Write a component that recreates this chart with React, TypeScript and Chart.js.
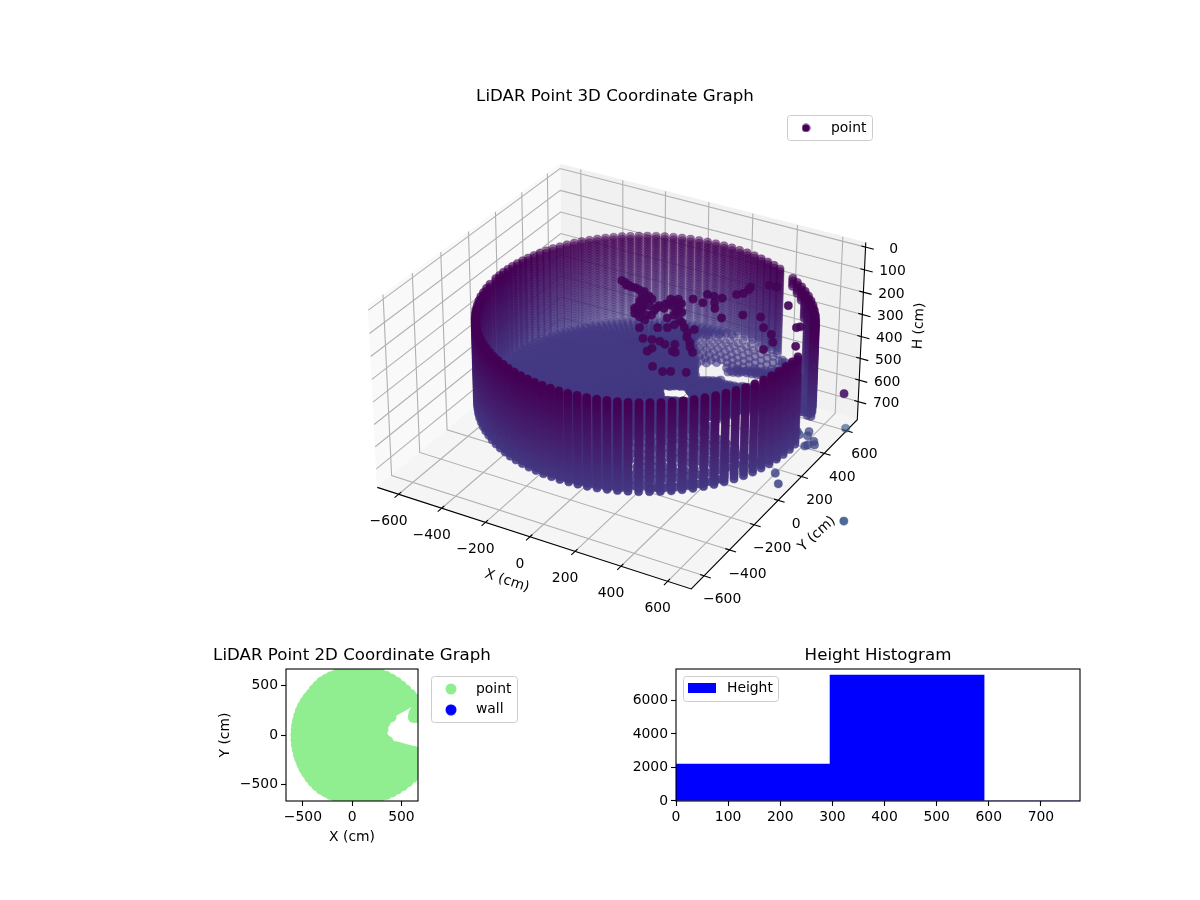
import React, { useEffect, useRef } from "react";
import { Chart, registerables } from "chart.js";

Chart.register(...registerables);
Chart.defaults.font.family = "'DejaVu Sans'";
Chart.defaults.font.size = 13.9;
Chart.defaults.color = "#000";

// ---------- 3D data (cm) ----------
const wallAngles = [22,25,28,31,34,37,40,43,46,49,52,55,62,64.9,67.8,70.7,73.6,76.5,79.4,82.3,85.2,88.1,91,93.9,96.8,99.7,102.6,105.5,108.4,111.3,114.2,117.1,120,122.9,125.8,128.7,131.6,134.5,137.4,140.3,143.2,146.1,149,151.9,154.8,157.7,160.6,163.5,166.4,169.3,172.2,175.1,178,183,186.5,190,193.5,197,200.5,204,207.5,211,214.5,218,221.5,225,228.5,232,235.5,239,242.5,246,249.5,253,256.5,260,263.5,267,270.5,274,277.5,281,284.5,288,291.5,295,298.5,302,305.5,309,312.5,316,319.5,323,326.5,330,333.5,337,340.5,344,347.5,351,354.5,358,361.5,365];
const wallRanges = [747,749,750,751,751,752,752,752,751,751,750,749,745,743,741,739,737,734,731,728,725,721,718,714,710,706,702,697,693,688,683,678,676,671,666,662,657,653,648,643,638,634,630,626,621,617,613,609,605,601,598,594,591,586,583,580,578,575,573,572,570,569,568,568,568,568,569,570,571,573,575,578,580,584,587,590,594,598,603,607,612,616,621,627,632,637,643,648,654,659,665,671,676,682,687,693,698,703,708,713,717,721,724,728,732,735];
const wallHeights = [170,182,194,206,218,230,242,254,266,278,290,302,314,326,338,350,362,374,386,398,410,422,434,446,458,470,482,494,506,518,530,542,555];
const shortColumnAngles = [46,49,52,55];
const shortColumnBottoms = [300,240,220,210];

const floorCenterX = 70;
const floorCenterY = 60;
const floorHeight = 555;
const floorRanges = [0,15,30,45,60,75,90,105,120,135,150,165,180,195,210,225,240,255,270,285,300,315,330,345,360,375,390,405,420,435,450,465,480,495,510,525,540,555,570,585,600,615,630,645];
const floorAngles = [0,2,4,6,8,10,12,14,16,18,20,22,24,26,28,30,32,34,36,38,40,42,44,46,48,50,52,54,56,58,60,62,64,66,68,70,72,74,76,78,80,82,84,86,88,90,92,94,96,98,100,102,104,106,108,110,112,114,116,118,120,122,124,126,128,130,132,134,136,138,140,142,144,146,148,150,152,154,156,158,160,162,164,166,168,170,172,174,176,178,180,182,184,186,188,190,192,194,196,198,200,202,204,206,208,210,212,214,216,218,220,222,224,226,228,230,232,234,236,238,240,242,244,246,248,250,252,254,256,258,260,262,264,266,268,270,272,274,276,278,280,282,284,286,288,290,292,294,296,298,300,302,304,306,308,310,312,314,316,318,320,322,324,326,328,330,332,334,336,338,340,342,344,346,348,350,352,354,356,358];

const voidX3d = [355,480,599,900,900,666,480,447];
const voidY3d = [23,180,271,300,-130,-91,-44,0];
const holeAX = [104,211,273,166];
const holeAY = [411,472,366,305];
const holeBX = [62,165,232,125];
const holeBY = [186,240,148,98];
const holeCX = [221,414,464,271];
const holeCY = [416,474,388,330];
const sparseFrontX = [131,557,807,335];
const sparseFrontY = [-204,326,-107,-557];
const sparseBackX = [-11,288,430,131];
const sparseBackY = [620,793,546,373];

const clutterHeight = 200;
const clutterX = [-177,-142,-117,-79,-49,-18,3,-19,5,-4,1,33,48,55,69,84,93,122,139,141,130,199,254,299,345,143,191,174,204,239,231,274,293,297,293,351,382,75,128,162,135,168,180,195,224,257,274,191,196,288,266,344,318,398,266,313,254,374,442,491,541,575,569,493,601,611,665,-159,-135,-99,-54,-19,-23,-32,-8,-16,13,-19,14,20,56,54,81,83,107,67,112,137,157,178,225,270,318,65,62];
const clutterY = [306,282,279,274,246,230,232,185,153,121,98,81,108,182,226,261,284,257,204,161,128,124,66,3,-59,313,306,375,375,377,329,432,453,491,515,566,567,7,-60,-50,42,61,94,-47,-58,-39,-90,-138,-110,-92,-229,-228,-244,-205,100,234,289,296,317,247,215,163,97,453,311,325,179,299,286,280,270,247,217,195,182,151,131,132,98,181,156,200,190,225,222,269,251,186,197,138,94,32,-29,118,71];

const debrisHeight = 620;
const debrisX = [614,617,668,731,754,725,691,634,669,762,717,650,700,740];
const debrisY = [227,275,232,180,193,167,271,153,39,-129,-67,250,240,215];

const strayX = [1041,748,911];
const strayY = [-125,487,106];
const strayH = [700,700,300];

const colorHeights = [170,555,700];
const colorStops = [[68,1,84],[68,57,131],[62,90,140]];

// 3D axes
const xLimit3d = 700;
const hTopLimit = -20;
const hBottomLimit = 785;
const xyTicks = [-600,-400,-200,0,200,400,600];
const hTicks = [0,100,200,300,400,500,600,700];

// ---------- 2D data ----------
const outlineAngles = [0,5,10,15,20,25,30,35,40,45,50,55,60,65,70,75,80,85,90,95,100,105,110,115,120,125,130,135,140,145,150,155,160,165,170,175,180,185,190,195,200,205,210,215,220,225,230,235,240,245,250,255,260,265,270,275,280,285,290,295,300,305,310,315,320,325,330,335,340,345,350,355];
const outlineRanges = [810,802,793,780,765,750,735,722,712,705,700,695,688,682,673,665,658,652,645,642,638,635,630,625,620,610,600,590,588,585,583,580,576,573,572,571,571,573,575,577,581,585,590,597,603,610,618,627,635,638,642,645,650,655,660,665,670,675,682,688,695,705,715,725,737,748,760,772,783,795,800,805];
const outlineFractions = [0,0.08,0.16,0.24,0.32,0.4,0.46,0.52,0.58,0.63,0.68,0.73,0.78,0.82,0.86,0.9,0.935,0.97,1];
const voidX2d = [295,393,495,546,660,900,900,656,452,395,350];
const voidY2d = [27,176,261,312,305,305,-155,-138,-105,-65,-30];
const blobX = [621,640,660,630,660,645,625];
const blobY = [180,180,180,225,225,250,205];
const xTicks2d = [-500,0,500];
const yTicks2d = [-500,0,500];

// ---------- histogram data ----------
const histCenters = [147.75,443.25,738.75];
const histCounts = [2210,7520,0];
const histXTicks = [0,100,200,300,400,500,600,700];
const histYTicks = [0,2000,4000,6000];

// ---------- helpers ----------
const rad = (d: number) => (d * Math.PI) / 180;
const BOX_XY = 1.245;
const BOX_Z = 0.722;

function project(x: number, y: number, h: number) {
  const px = (x / xLimit3d) * (BOX_XY / 2);
  const py = (y / xLimit3d) * (BOX_XY / 2);
  const pz = ((hBottomLimit - h) / (hBottomLimit - hTopLimit) - 0.5) * BOX_Z;
  const xv = 0.866025 * px + 0.5 * py;
  const yv = -0.25 * px + 0.433013 * py + 0.866025 * pz;
  const wd = 0.433013 * px - 0.75 * py + 0.5 * pz;
  const d = 10 - wd;
  return { x: xv / d, y: yv / d, depth: wd };
}

function inside(x: number, y: number, xs: number[], ys: number[]) {
  let hit = false;
  for (let i = 0, j = xs.length - 1; i < xs.length; j = i++) {
    if (ys[i] > y !== ys[j] > y && x < ((xs[j] - xs[i]) * (y - ys[i])) / (ys[j] - ys[i]) + xs[i]) hit = !hit;
  }
  return hit;
}

function colorFor(h: number, alpha: number) {
  let i = 0;
  while (i < colorHeights.length - 2 && h > colorHeights[i + 1]) i++;
  const t = Math.max(0, Math.min(1, (h - colorHeights[i]) / (colorHeights[i + 1] - colorHeights[i])));
  const c = colorStops[i].map((v, k) => Math.round(v + (colorStops[i + 1][k] - v) * t));
  return `rgba(${c[0]},${c[1]},${c[2]},${alpha.toFixed(3)})`;
}

function build3dCloud() {
  const raw: [number, number, number, number?][] = [];
  wallAngles.forEach((a, i) => {
    const s = shortColumnAngles.indexOf(a);
    const bottom = s >= 0 ? shortColumnBottoms[s] : 9999;
    for (const h of wallHeights) {
      if (h <= bottom) raw.push([wallRanges[i] * Math.cos(rad(a)), wallRanges[i] * Math.sin(rad(a)), h]);
    }
  });
  floorRanges.forEach((r, ri) => {
    floorAngles.forEach((a, ai) => {
      const x = floorCenterX + r * Math.cos(rad(a));
      const y = floorCenterY + r * Math.sin(rad(a));
      if (inside(x, y, voidX3d, voidY3d) || inside(x, y, holeAX, holeAY) || inside(x, y, holeBX, holeBY) || inside(x, y, holeCX, holeCY)) return;
      if (inside(x, y, sparseFrontX, sparseFrontY) && (ri % 3 !== 0 || ai % 2 !== 0)) return;
      if (inside(x, y, sparseBackX, sparseBackY) && (ri % 2 !== 0 || ai % 2 !== 0)) return;
      raw.push([x, y, floorHeight]);
    });
  });
  clutterX.forEach((x, i) => raw.push([x, clutterY[i], clutterHeight, 0.93]));
  debrisX.forEach((x, i) => raw.push([x, debrisY[i], debrisHeight]));
  strayX.forEach((x, i) => raw.push([x, strayY[i], strayH[i]]));
  const pts = raw.map((p) => ({ ...project(p[0], p[1], p[2]), h: p[2], fixed: p[3] }));
  pts.sort((a, b) => a.depth - b.depth);
  const lo = pts[0].depth;
  const hi = pts[pts.length - 1].depth;
  return {
    data: pts.map((p) => ({ x: p.x, y: p.y })),
    colors: pts.map((p) => colorFor(p.h, p.fixed ?? 0.3 + 0.7 * Math.pow((p.depth - lo) / (hi - lo), 0.6))),
  };
}

function poly(...corners: number[][]) {
  return corners.map((c) => {
    const p = project(c[0], c[1], c[2]);
    return { x: p.x, y: p.y };
  });
}
function segments(list: number[][][]) {
  const out: { x: number; y: number }[] = [];
  for (const s of list) {
    out.push(...poly(...s));
    out.push({ x: NaN, y: NaN });
  }
  return out;
}

function marker(shape: "dot" | "rect", color: string, a: number, b: number) {
  const c = document.createElement("canvas");
  c.width = a;
  c.height = b;
  const g = c.getContext("2d")!;
  g.fillStyle = color;
  if (shape === "rect") g.fillRect(0, 0, a, b);
  else {
    g.beginPath();
    g.arc(a / 2, b / 2, a / 2 - 0.5, 0, Math.PI * 2);
    g.fill();
  }
  return c;
}

const legendPlacer = {
  id: "legendPlacer",
  afterLayout(chart: any, _a: any, o: any) {
    const t = chart.titleBlock;
    if (t) {
      t.left = 0;
      t.right = chart.width;
      t.width = chart.width;
    }
    const l = chart.legend;
    if (!l || !o.at) return;
    const pad = l.options.labels.padding;
    l.left = o.at[0] - pad;
    l.top = o.at[1] - pad;
    l.right = l.left + 220;
    l.bottom = l.top + 120;
  },
  beforeDraw(chart: any, _a: any, o: any) {
    if (!o.box) return;
    const g = chart.ctx;
    g.save();
    g.beginPath();
    g.roundRect(o.box[0] + 0.5, o.box[1] + 0.5, o.box[2], o.box[3], 3);
    g.fillStyle = "rgba(255,255,255,0.8)";
    g.fill();
    g.strokeStyle = "#cccccc";
    g.lineWidth = 1;
    g.stroke();
    g.restore();
  },
};

const frame = {
  id: "frame",
  afterDraw(chart: any, _a: any, o: any) {
    if (!o.on) return;
    const { left, top, width, height } = chart.chartArea;
    const g = chart.ctx;
    g.save();
    g.strokeStyle = "#000";
    g.lineWidth = 1.1;
    g.strokeRect(left, top, width, height);
    g.restore();
  },
};

const minus = (v: number) => String(v).replace("-", "\u2212");

const axisText3d = {
  id: "axisText3d",
  afterDraw(chart: any, _a: any, o: any) {
    if (!o.on) return;
    const g = chart.ctx;
    const sx = chart.scales.x;
    const sy = chart.scales.y;
    const at = (p: { x: number; y: number }) => [sx.getPixelForValue(p.x), sy.getPixelForValue(p.y)];
    g.save();
    g.fillStyle = "#000";
    g.textAlign = "center";
    g.textBaseline = "middle";
    g.font = "13.9px 'DejaVu Sans'";
    const L = xLimit3d;
    xyTicks.forEach((v) => {
      const a = at(project(v, -L, hBottomLimit));
      g.fillText(minus(v), a[0] - 10, a[1] + 27.5);
      const b = at(project(L, v, hBottomLimit));
      g.fillText(minus(v), b[0] + 18, b[1] + 24);
    });
    hTicks.forEach((v) => {
      const a = at(project(L, L, v));
      g.fillText(minus(v), a[0] + 28, a[1] + 2);
    });
    const label = (t: string, x: number, y: number, deg: number) => {
      g.save();
      g.translate(x - 30, y);
      g.rotate(rad(deg));
      g.fillText(t, 0, 0);
      g.restore();
    };
    label("X (cm)", 507, 581, 18);
    label("Y (cm)", 817, 534, -42);
    label("H (cm)", 919, 326, -87);
    g.restore();
  },
};

const S3D = 2895;
const ORIGIN_X = 622 - 30;
const ORIGIN_Y = 367;
const AREA_TOP = 107;
const CANVAS3D_W = 1170;
const CANVAS3D_H = 640;
const HIST_MAX_X = 775;
const HIST_AREA_W = 404;
const HIST_BIN = 295.5;

export default function App() {
  const c3 = useRef<HTMLCanvasElement>(null);
  const c2 = useRef<HTMLCanvasElement>(null);
  const ch = useRef<HTMLCanvasElement>(null);

  useEffect(() => {
    document.body.style.margin = "0";
    document.body.style.background = "#fff";
    const L = xLimit3d;
    const T = hTopLimit;
    const B = hBottomLimit;
    const cloud = build3dCloud();

    const gridSegs: number[][][] = [];
    xyTicks.forEach((v) => {
      gridSegs.push([[v, -L, B], [v, L, B], [v, L, T]]);
      gridSegs.push([[L, v, B], [-L, v, B], [-L, v, T]]);
    });
    hTicks.forEach((v) => gridSegs.push([[L, L, v], [-L, L, v], [-L, -L, v]]));

    const tickSegs: number[][][] = [];
    xyTicks.forEach((v) => {
      tickSegs.push([[v, -L - 28, B], [v, -L + 18, B]]);
      tickSegs.push([[L + 28, v, B], [L - 18, v, B]]);
    });
    hTicks.forEach((v) => tickSegs.push([[L - 18, L, v], [L + 36, L, v]]));

    const flat = { showLine: true, pointRadius: 0, pointHoverRadius: 0, spanGaps: false };
    const pane = (label: string, color: string, pts: { x: number; y: number }[]) => ({
      ...flat, label, data: pts, borderColor: color, backgroundColor: color, borderWidth: 1, fill: "shape", order: 10,
    });

    const chart3 = new Chart(c3.current!, {
      type: "scatter",
      data: {
        datasets: [
          { label: "point", data: cloud.data, showLine: false, pointBackgroundColor: cloud.colors, pointBorderColor: cloud.colors, pointBorderWidth: 0.5, pointRadius: 4.1, order: 0 } as any,
          pane("paneFloor", "#f5f5f5", poly([-L, -L, B], [L, -L, B], [L, L, B], [-L, L, B], [-L, -L, B])),
          pane("paneLeft", "#f9f9f9", poly([-L, -L, B], [-L, L, B], [-L, L, T], [-L, -L, T], [-L, -L, B])),
          pane("paneBack", "#f1f1f1", poly([-L, L, B], [L, L, B], [L, L, T], [-L, L, T], [-L, L, B])),
          { ...flat, label: "grid", data: segments(gridSegs), borderColor: "#b0b0b0", borderWidth: 1.1, order: 5 },
          { ...flat, label: "axes", data: segments([[[-L, -L, B], [L, -L, B], [L, L, B], [L, L, T]]]), borderColor: "#000", borderWidth: 1.1, order: 4 },
          { ...flat, label: "ticks", data: segments(tickSegs), borderColor: "#000", borderWidth: 1.1, order: 4 },
        ] as any,
      },
      options: {
        responsive: false,
        devicePixelRatio: 1,
        animation: false,
        events: [],
        layout: { padding: 0 },
        scales: {
          x: { type: "linear", display: false, min: -ORIGIN_X / S3D, max: (CANVAS3D_W - ORIGIN_X) / S3D },
          y: { type: "linear", display: false, min: (ORIGIN_Y - CANVAS3D_H) / S3D, max: (ORIGIN_Y - AREA_TOP) / S3D },
        },
        plugins: {
          title: { display: true, text: "LiDAR Point 3D Coordinate Graph", font: { size: 16.67, weight: "normal" }, color: "#000", padding: { top: 87, bottom: 0 } },
          tooltip: { enabled: false },
          legend: {
            position: "chartArea",
            align: "start",
            labels: {
              usePointStyle: true,
              pointStyleWidth: 36,
              padding: 0,
              generateLabels: () => [{ text: "point", pointStyle: marker("dot", "#440154", 9, 9), fillStyle: "#440154", strokeStyle: "#440154", lineWidth: 0, hidden: false, datasetIndex: 0 }],
            },
          } as any,
          legendPlacer: { at: [758, 121], box: [757, 115, 85, 25] },
          axisText3d: { on: true },
        } as any,
      },
      plugins: [legendPlacer, axisText3d],
    } as any);

    // 2D outline cloud
    const cloud2d: { x: number; y: number }[] = [];
    outlineAngles.forEach((a, i) => {
      for (const f of outlineFractions) {
        const x = outlineRanges[i] * f * Math.cos(rad(a));
        const y = outlineRanges[i] * f * Math.sin(rad(a));
        if (!inside(x, y, voidX2d, voidY2d)) cloud2d.push({ x, y });
      }
    });
    blobX.forEach((x, i) => cloud2d.push({ x, y: blobY[i] }));

    const tickList = (list: number[]) => (axis: any) => {
      axis.ticks = list.map((value) => ({ value }));
    };
    const axisBase = {
      grid: { display: true, drawOnChartArea: false, tickLength: 5, tickColor: "#000", tickWidth: 1.1 },
      border: { display: false },
    };
    const tickFont = { maxRotation: 0, minRotation: 0, autoSkip: false, padding: 3, color: "#000", callback: (v: number) => minus(v) };

    const chart2 = new Chart(c2.current!, {
      type: "scatter",
      data: {
        datasets: [
          { label: "point", data: cloud2d, backgroundColor: "#90ee90", borderColor: "#90ee90", pointRadius: 5.5, borderWidth: 0 },
          { label: "wall", data: [], backgroundColor: "#0000ff", borderColor: "#0000ff", pointRadius: 5.5, borderWidth: 0 },
        ],
      },
      options: {
        responsive: false,
        devicePixelRatio: 1,
        animation: false,
        events: [],
        layout: { padding: { left: 65, right: 134, bottom: 14.5, top: 0 } },
        scales: {
          x: { type: "linear", min: -672, max: 668, ...axisBase, ticks: tickFont, afterBuildTicks: tickList(xTicks2d), afterFit: (s: any) => { s.height = 44.5; }, title: { display: true, text: "X (cm)", color: "#000", padding: 0, font: { size: 13.9 } } },
          y: { type: "linear", min: -670, max: 670, ...axisBase, ticks: tickFont, afterBuildTicks: tickList(yTicks2d), afterFit: (s: any) => { s.width = 69; }, title: { display: true, text: "Y (cm)", color: "#000", padding: 0, font: { size: 13.9 } } },
        },
        plugins: {
          title: { display: true, text: "LiDAR Point 2D Coordinate Graph", font: { size: 16.67, weight: "normal" }, color: "#000", padding: { top: 6, bottom: 3 } },
          tooltip: { enabled: false },
          legend: {
            position: "chartArea",
            align: "start",
            labels: {
              usePointStyle: true,
              pointStyleWidth: 36,
              padding: 7,
              generateLabels: () => [
                { text: "point", pointStyle: marker("dot", "#90ee90", 12, 12), fillStyle: "#90ee90", strokeStyle: "#90ee90", lineWidth: 0, hidden: false, datasetIndex: 0 },
                { text: "wall", pointStyle: marker("dot", "#0000ff", 12, 12), fillStyle: "#0000ff", strokeStyle: "#0000ff", lineWidth: 0, hidden: false, datasetIndex: 1 },
              ],
            },
          } as any,
          legendPlacer: { at: [281, 42], box: [279, 36, 86, 46] },
          frame: { on: true },
        } as any,
      },
      plugins: [legendPlacer, frame],
    } as any);

    const chartH = new Chart(ch.current!, {
      type: "bar",
      data: {
        datasets: [
          { label: "Height", data: histCenters.map((x, i) => ({ x, y: histCounts[i] })), backgroundColor: "#0000ff", borderWidth: 0, barThickness: (HIST_BIN / HIST_MAX_X) * HIST_AREA_W },
        ],
      },
      options: {
        responsive: false,
        devicePixelRatio: 1,
        animation: false,
        events: [],
        layout: { padding: { left: 6, right: 56, bottom: 29, top: 0 } },
        scales: {
          x: { type: "linear", offset: false, min: 0, max: HIST_MAX_X, ...axisBase, grid: { ...axisBase.grid, offset: false }, ticks: tickFont, afterBuildTicks: tickList(histXTicks), afterFit: (s: any) => { s.height = 30; } },
          y: { type: "linear", min: 0, max: 7880, ...axisBase, ticks: tickFont, afterBuildTicks: tickList(histYTicks), afterFit: (s: any) => { s.width = 50; } },
        },
        plugins: {
          title: { display: true, text: "Height Histogram", font: { size: 16.67, weight: "normal" }, color: "#000", padding: { top: 6, bottom: 3 } },
          tooltip: { enabled: false },
          legend: {
            position: "chartArea",
            align: "start",
            labels: {
              usePointStyle: true,
              pointStyleWidth: 36,
              padding: 0,
              generateLabels: () => [{ text: "Height", pointStyle: marker("rect", "#0000ff", 28, 10), fillStyle: "#0000ff", strokeStyle: "#0000ff", lineWidth: 0, hidden: false, datasetIndex: 0 }],
            },
          } as any,
          legendPlacer: { at: [64, 41], box: [63, 36, 95, 25] },
          frame: { on: true },
        } as any,
      },
      plugins: [legendPlacer, frame],
    } as any);

    return () => {
      chart3.destroy();
      chart2.destroy();
      chartH.destroy();
    };
  }, []);

  const pos = (left: number, top: number): React.CSSProperties => ({ position: "absolute", left, top });
  return (
    <div style={{ position: "absolute", left: 0, top: 0, width: 1200, height: 900, overflow: "hidden", background: "#fff" }}>
      <canvas ref={c3} width={CANVAS3D_W} height={CANVAS3D_H} style={pos(30, 0)} />
      <canvas ref={c2} width={400} height={220} style={pos(152, 640)} />
      <canvas ref={ch} width={516} height={220} style={pos(620, 640)} />
    </div>
  );
}
